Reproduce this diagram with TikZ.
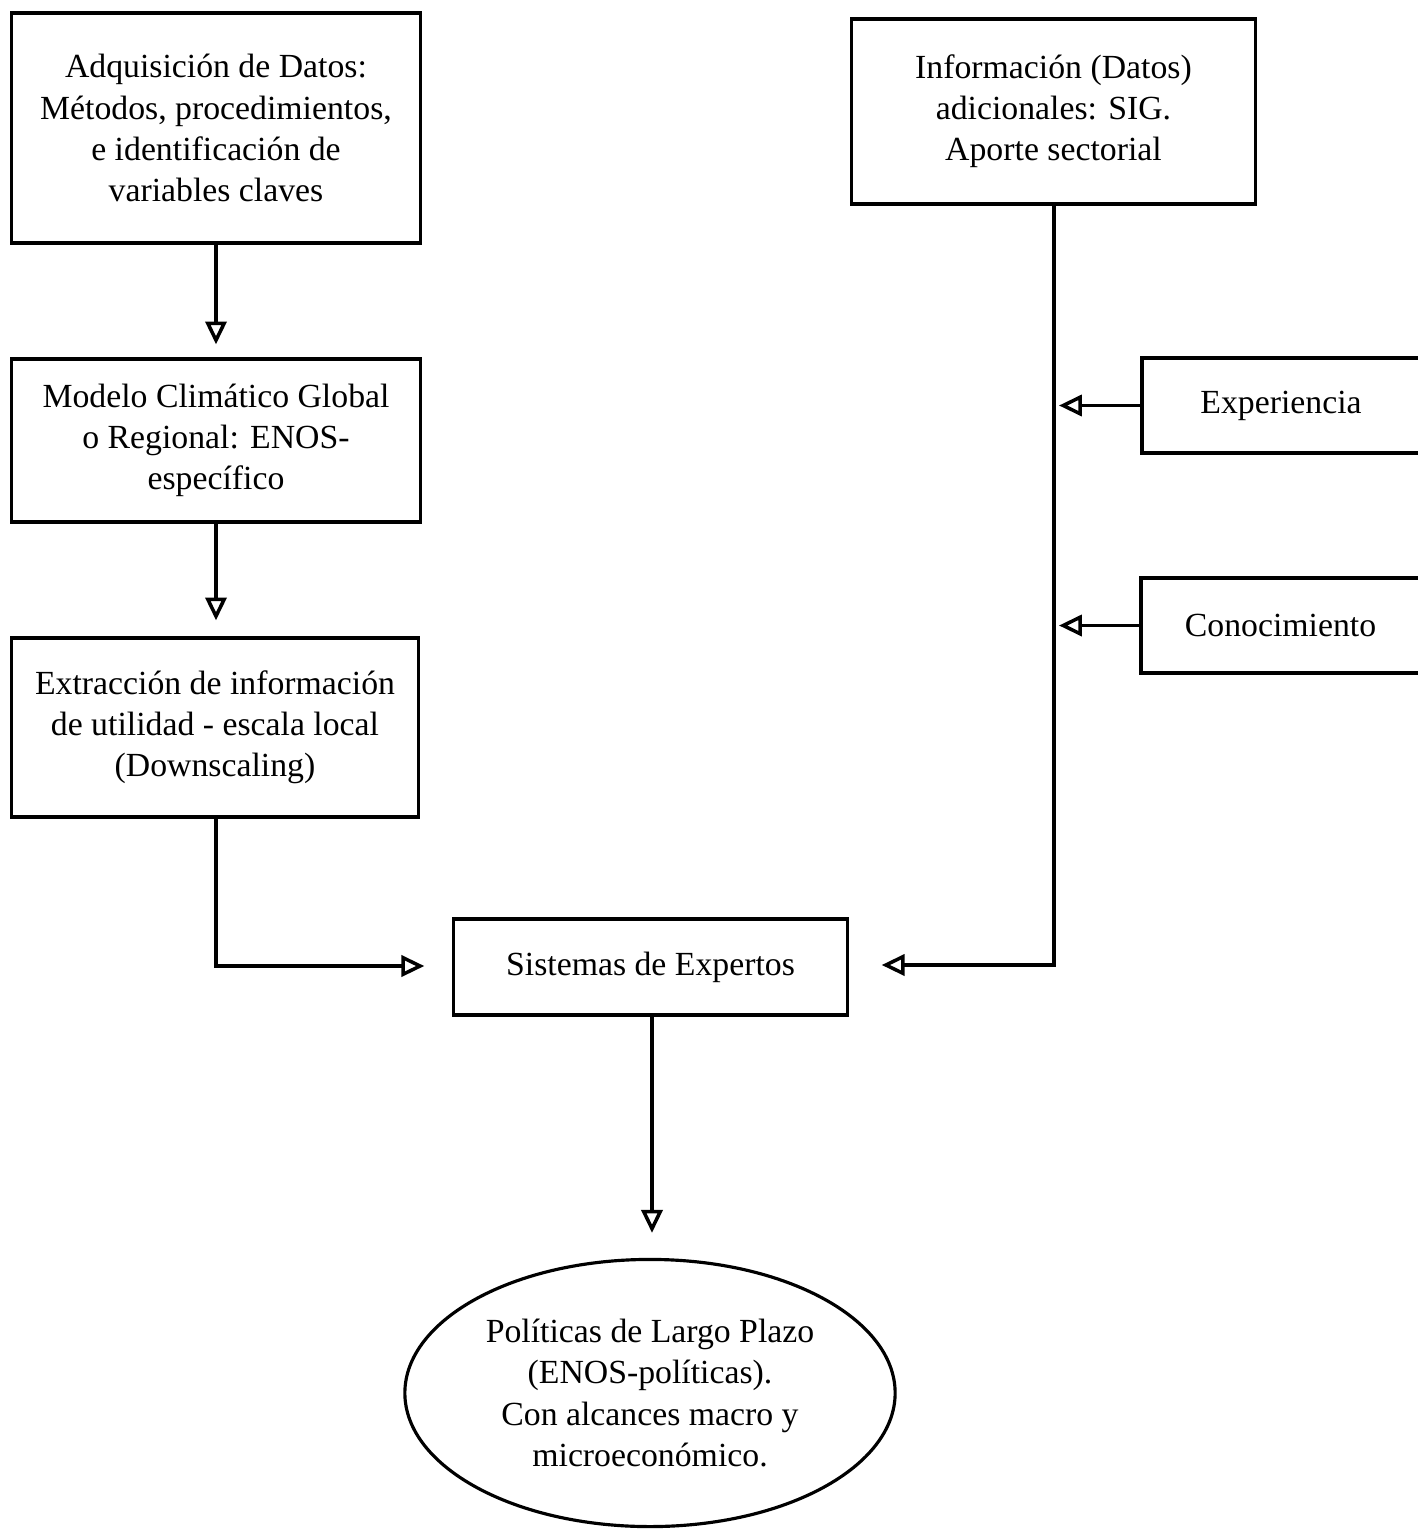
\documentclass[tikz,border=0pt]{standalone}
\usepackage{fontspec}
\setmainfont{Liberation Serif}
\usetikzlibrary{arrows.meta, shapes.geometric, positioning}

\begin{document}
\begin{tikzpicture}[x=0.01cm, y=-0.01cm,
    caja/.style={draw, line width=0.9pt, inner sep=0pt, align=center, font=\fontsize{9.6}{11.7}\selectfont},
    flecha/.style={line width=1pt, -{Triangle[open, length=6.5pt, width=6pt]}}]
  \useasboundingbox (0,0) rectangle (1418,1530);

  % Columna izquierda
  \node[caja, minimum width=4.08cm, minimum height=2.30cm] (adq) at (216,128)
    {Adquisición de Datos:\\Métodos, procedimientos,\\e identificación de\\variables claves};
  \node[caja, minimum width=4.08cm, minimum height=1.63cm] (modelo) at (216,440.5)
    {Modelo Climático Global\\o Regional: ENOS-\\específico};
  \node[caja, minimum width=4.06cm, minimum height=1.79cm] (extra) at (215,727.5)
    {Extracción de información\\de utilidad - escala local\\(Downscaling)};

  % Columna derecha
  \node[caja, minimum width=4.03cm, minimum height=1.85cm] (info) at (1053.5,111.5)
    {Información (Datos)\\adicionales: SIG.\\Aporte sectorial};
  \node[caja, minimum width=2.78cm, minimum height=0.95cm] (exper) at (1281,405.5) {Experiencia};
  \node[caja, minimum width=2.79cm, minimum height=0.95cm] (conoc) at (1280.5,625.5) {Conocimiento};

  % Centro
  \node[caja, minimum width=3.93cm, minimum height=0.96cm] (sist) at (650.5,967) {Sistemas de Expertos};
  \node[caja, ellipse, minimum width=4.90cm, minimum height=2.67cm] (polit) at (650,1393)
    {Políticas de Largo Plazo\\(ENOS-políticas).\\Con alcances macro y\\microeconómico.};

  % Conectores
  \coordinate (tronco) at (1054,965);
  \coordinate (codo) at (216,966);
  \draw[flecha, shorten >=0.13cm] (adq.south -| 216,0) -- (modelo.north -| 216,0);
  \draw[flecha, shorten >=0.16cm] (modelo.south -| 216,0) -- (extra.north -| 216,0);
  \draw[flecha, shorten >=0.28cm] (extra.south -| codo) -- (codo) -- (sist.west |- codo);
  \draw[flecha, shorten >=0.33cm] (info.south -| tronco) -- (tronco) -- (sist.east |- tronco);
  \draw[flecha, shorten >=0.05cm] (exper.west) -- (exper.west -| tronco);
  \draw[flecha, shorten >=0.05cm] (conoc.west) -- (conoc.west -| tronco);
  \draw[flecha, shorten >=0.25cm] (sist.south -| 652,0) -- (polit.north -| 652,0);
\end{tikzpicture}
\end{document}
